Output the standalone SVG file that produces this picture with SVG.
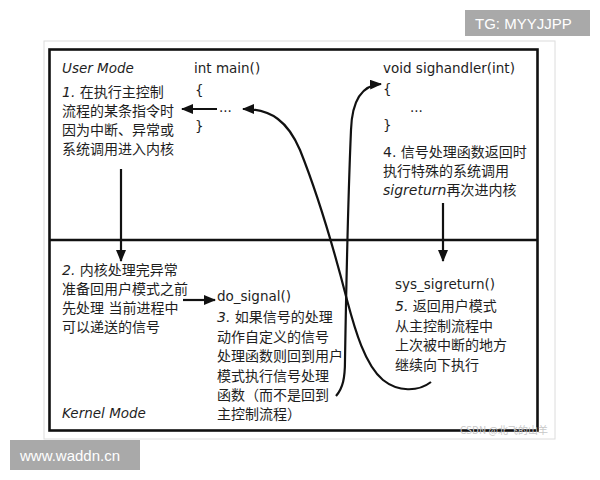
<svg xmlns="http://www.w3.org/2000/svg" width="600" height="480" viewBox="0 0 600 480">
<defs>
<style>
.t{font-family:"DejaVu Sans","Noto Sans CJK SC",sans-serif;font-size:13.5px;fill:#1e1e1e}
.c{font-size:14px}
.i{font-style:italic}
.ln{fill:none;stroke:#111;stroke-width:2.2}
.fr{fill:none;stroke:#111;stroke-width:2.6}
.wm{font-family:"Liberation Sans","Noto Sans CJK SC",sans-serif;font-size:15px;fill:#fff}
</style>
<marker id="ah" viewBox="0 0 12 10" refX="11" refY="5" markerWidth="12" markerHeight="10" markerUnits="userSpaceOnUse" orient="auto">
<path d="M0,0 L12,5 L0,10 Z" fill="#111"/>
</marker>
</defs>
<rect width="600" height="480" fill="#fff"/>
<rect x="44" y="41" width="511" height="398" fill="#fff" stroke="#dcdcdc" stroke-width="1"/>
<g id="frame">
<rect class="fr" x="49.5" y="49.5" width="488" height="381"/>
<line class="fr" x1="49.5" y1="240" x2="537.5" y2="240"/>
</g>
<g id="user-mode"><text class="t i" x="62" y="73">User Mode</text></g>
<g id="kernel-mode"><text class="t i" x="62" y="418">Kernel Mode</text></g>
<g id="main-code">
<text class="t" x="194" y="73">int main()</text>
<text class="t" x="195" y="95">{</text>
<text class="t" x="219" y="112">...</text>
<text class="t" x="195" y="131">}</text>
</g>
<g id="sighandler-code">
<text class="t" x="383" y="73">void sighandler(int)</text>
<text class="t" x="383" y="94">{</text>
<text class="t" x="410" y="112">...</text>
<text class="t" x="383" y="130">}</text>
</g>
<g id="step1">
<text class="t c" x="62" y="97"><tspan class="i">1.</tspan> 在执行主控制</text>
<text class="t c" x="62" y="116">流程的某条指令时</text>
<text class="t c" x="62" y="135">因为中断、异常或</text>
<text class="t c" x="62" y="154">系统调用进入内核</text>
</g>
<g id="step2">
<text class="t c" x="62" y="275"><tspan class="i">2.</tspan> 内核处理完异常</text>
<text class="t c" x="62" y="294">准备回用户模式之前</text>
<text class="t c" x="62" y="313">先处理 当前进程中</text>
<text class="t c" x="62" y="332">可以递送的信号</text>
</g>
<g id="do-signal">
<text class="t" x="217" y="301">do_signal()</text>
</g>
<g id="step3">
<text class="t c" x="217" y="322"><tspan class="i">3.</tspan> 如果信号的处理</text>
<text class="t c" x="217" y="342">动作自定义的信号</text>
<text class="t c" x="217" y="361">处理函数则回到用户</text>
<text class="t c" x="217" y="381">模式执行信号处理</text>
<text class="t c" x="217" y="400">函数（而不是回到</text>
<text class="t c" x="217" y="419">主控制流程）</text>
</g>
<g id="step4">
<text class="t c" x="383" y="157">4. 信号处理函数返回时</text>
<text class="t c" x="383" y="176">执行特殊的系统调用</text>
<text class="t c" x="383" y="195"><tspan class="i">sigreturn</tspan>再次进内核</text>
</g>
<g id="sys-sigreturn">
<text class="t" x="395" y="289">sys_sigreturn()</text>
</g>
<g id="step5">
<text class="t c" x="395" y="311"><tspan class="i">5.</tspan> 返回用户模式</text>
<text class="t c" x="395" y="331">从主控制流程中</text>
<text class="t c" x="395" y="350">上次被中断的地方</text>
<text class="t c" x="395" y="370">继续向下执行</text>
</g>
<g id="connectors">
<line class="ln" x1="217" y1="109" x2="182" y2="109" marker-end="url(#ah)"/>
<line class="ln" x1="121" y1="169" x2="121" y2="261" marker-end="url(#ah)"/>
<line class="ln" x1="183" y1="300" x2="215" y2="300" marker-end="url(#ah)"/>
<line class="ln" x1="443" y1="203" x2="443" y2="261" marker-end="url(#ah)"/>
<path class="ln" d="M 431 382 C 418 392, 398 392, 383 380 C 365 365, 355 330, 347 300 C 338 265, 320 200, 300 150 C 288 122, 272 109, 243 109" marker-end="url(#ah)"/>
<path class="ln" d="M 336 396 C 343 388, 345 378, 345 360 C 346 300, 348 200, 351 130 C 352 100, 362 85, 381 84" marker-end="url(#ah)"/>
</g>
<g id="watermarks">
<text x="460" y="434" font-family="'Noto Sans CJK SC',sans-serif" font-size="10" fill="#c8c8c8">CSDN @北飞的山羊</text>
<rect x="465" y="10" width="125" height="26" fill="#a9a9a9"/>
<text class="wm" x="475" y="29">TG: MYYJJPP</text>
<rect x="10" y="440" width="130" height="30" fill="#a9a9a9"/>
<text class="wm" x="20" y="461">www.waddn.cn</text>
</g>
</svg>
